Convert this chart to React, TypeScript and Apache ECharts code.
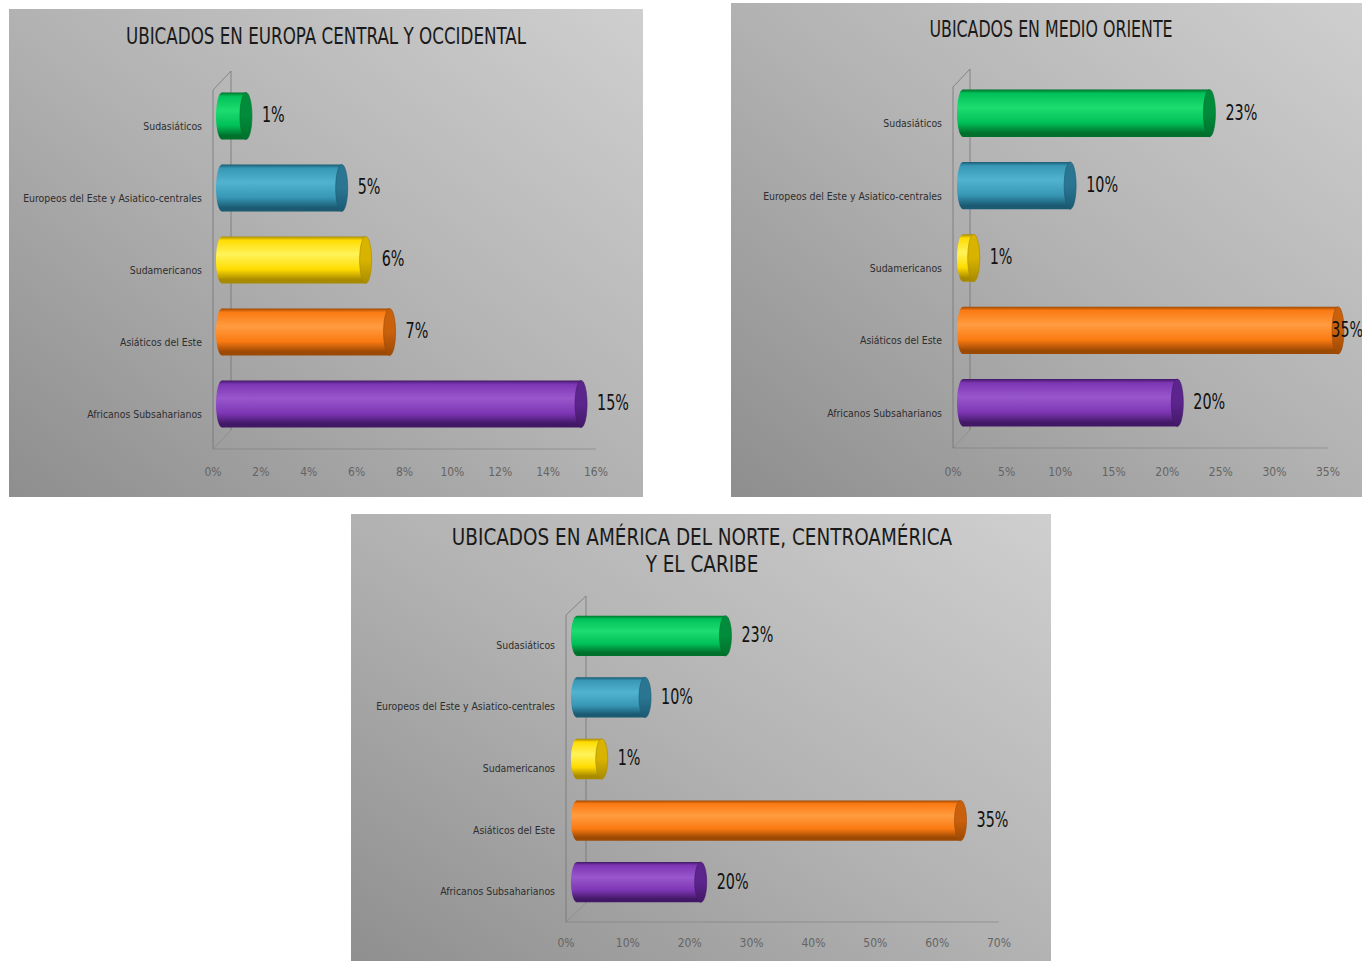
import React, { useEffect, useRef } from "react";
import * as echarts from "echarts";

// ---------- DATA ----------
const categories = [
  "Sudasiáticos",
  "Europeos del Este y Asiatico-centrales",
  "Sudamericanos",
  "Asiáticos del Este",
  "Africanos Subsaharianos",
];

const europaTitle = "UBICADOS EN EUROPA CENTRAL Y OCCIDENTAL";
const europaValues = [1, 5, 6, 7, 15];
const europaLabels = ["1%", "5%", "6%", "7%", "15%"];
const europaAxisMax = 16;
const europaAxisStep = 2;

const medioTitle = "UBICADOS EN MEDIO ORIENTE";
const medioValues = [23, 10, 1, 35, 20];
const medioLabels = ["23%", "10%", "1%", "35%", "20%"];
const medioAxisMax = 35;
const medioAxisStep = 5;

const americaTitle = "UBICADOS EN AMÉRICA DEL NORTE, CENTROAMÉRICA\nY EL CARIBE";
const americaValues = [24, 11, 4, 62, 20];
const americaLabels = ["23%", "10%", "1%", "35%", "20%"];
const americaAxisMax = 70;
const americaAxisStep = 10;

// ---------- STYLE ----------
const FONT = '"DejaVu Sans Condensed", "DejaVu Sans", sans-serif';

const barColors = [
  { light: "#1ddc70", base: "#00c158", dark: "#00702c", cap: "#008c3b" },
  { light: "#52b3cf", base: "#3797b5", dark: "#1b5a72", cap: "#2a7592" },
  { light: "#fff35a", base: "#ffdc00", dark: "#a88a00", cap: "#d8b300" },
  { light: "#ff9c40", base: "#fb7a12", dark: "#9c4904", cap: "#c9600c" },
  { light: "#9857cc", base: "#7d36b4", dark: "#421866", cap: "#5c258e" },
];

type Panel = {
  title: string;
  values: number[];
  labels: string[];
  max: number;
  step: number;
  rect: [number, number, number, number];
  grid: { left: number; top: number; width: number; height: number };
  titleX: number;
  titleY: number;
  titleScale: number;
  depth: number;
  wallDx: number;
  wallDy: number;
  floorY: number;
  labelMargin: number;
  catOffset: number;
};

const panels: Panel[] = [
  {
    title: europaTitle,
    values: europaValues,
    labels: europaLabels,
    max: europaAxisMax,
    step: europaAxisStep,
    rect: [9, 9, 634, 488],
    grid: { left: 213, top: 80, width: 383, height: 360 },
    titleX: 326,
    titleY: 36,
    titleScale: 0.81,
    depth: 9,
    wallDx: 18,
    wallDy: 19,
    floorY: 449,
    labelMargin: 26,
    catOffset: 10,
  },
  {
    title: medioTitle,
    values: medioValues,
    labels: medioLabels,
    max: medioAxisMax,
    step: medioAxisStep,
    rect: [731, 3, 640, 494],
    grid: { left: 953, top: 77, width: 375, height: 362 },
    titleX: 1051,
    titleY: 29,
    titleScale: 0.765,
    depth: 10,
    wallDx: 17,
    wallDy: 18,
    floorY: 448,
    labelMargin: 27,
    catOffset: 10,
  },
  {
    title: americaTitle,
    values: americaValues,
    labels: americaLabels,
    max: americaAxisMax,
    step: americaAxisStep,
    rect: [351, 514, 700, 460],
    grid: { left: 566, top: 605, width: 433, height: 308 },
    titleX: 702,
    titleY: 551,
    titleScale: 0.89,
    depth: 11,
    wallDx: 20,
    wallDy: 19,
    floorY: 922,
    labelMargin: 24,
    catOffset: 9,
  },
];

const CAP_RX = 6;
const VALUE_FONT = 21;
const VALUE_SCALE = 0.76;

export default function App() {
  const ref = useRef<HTMLDivElement>(null);

  useEffect(() => {
    if (!ref.current) return;
    const chart = echarts.init(ref.current, null, { renderer: "svg" });

    const graphics: any[] = [];
    panels.forEach((p) => {
      const [x, y, w, h] = p.rect;
      graphics.push({
        type: "rect",
        z: -10,
        shape: { x, y, width: w, height: h },
        style: {
          fill: new echarts.graphic.LinearGradient(0, 1, 1, 0, [
            { offset: 0, color: "#8e8e8e" },
            { offset: 0.5, color: "#b2b2b2" },
            { offset: 1, color: "#cfcfcf" },
          ]),
        },
        silent: true,
      });
      const g = p.grid;
      const fx = g.left;
      const topY = g.top + 10;
      const bx = fx + p.wallDx;
      graphics.push({
        type: "polyline",
        z: -5,
        shape: {
          points: [
            [fx, p.floorY],
            [fx, topY],
            [bx, topY - p.wallDy],
            [bx, p.floorY - p.wallDy],
          ],
        },
        style: { stroke: "rgba(110,110,110,0.7)", lineWidth: 1, fill: null },
        silent: true,
      });
      graphics.push({
        type: "line",
        z: -5,
        shape: { x1: fx, y1: p.floorY, x2: g.left + g.width, y2: p.floorY },
        style: { stroke: "rgba(120,120,120,0.55)", lineWidth: 1.2 },
        silent: true,
      });
      graphics.push({
        type: "line",
        z: -5,
        shape: { x1: fx, y1: p.floorY, x2: bx, y2: p.floorY - p.wallDy },
        style: { stroke: "rgba(120,120,120,0.4)", lineWidth: 1 },
        silent: true,
      });
      graphics.push({
        type: "text",
        z: 5,
        x: p.titleX,
        y: p.titleY,
        scaleX: p.titleScale,
        style: {
          text: p.title,
          fill: "#1a1a1a",
          fontFamily: FONT,
          fontSize: 23,
          lineHeight: 27,
          align: "center",
          verticalAlign: "middle",
        },
      });
    });

    const option: any = {
      animation: false,
      backgroundColor: "#ffffff",
      grid: panels.map((p) => ({ ...p.grid, containLabel: false })),
      xAxis: panels.map((p, i) => ({
        type: "value",
        gridIndex: i,
        min: 0,
        max: p.max,
        interval: p.step,
        axisLine: { show: false },
        axisTick: { show: false },
        splitLine: { show: false },
        axisLabel: {
          formatter: "{value}%",
          margin: p.labelMargin,
          fontFamily: FONT,
          fontSize: 12,
          color: "#646464",
        },
      })),
      yAxis: panels.map((p, i) => ({
        type: "category",
        gridIndex: i,
        inverse: true,
        data: categories,
        axisLine: { show: false },
        axisTick: { show: false },
        splitLine: { show: false },
        axisLabel: {
          margin: 11,
          fontFamily: FONT,
          fontSize: 10.4,
          color: "#2e2e2e",
          verticalAlign: "top",
          lineHeight: p.catOffset * 2,
        },
      })),
      graphic: { elements: graphics },
      series: panels.map((p, i) => ({
        type: "custom",
        xAxisIndex: i,
        yAxisIndex: i,
        encode: { x: 0, y: 1 },
        data: p.values.map((v, k) => [v, k]),
        renderItem: (params: any, api: any) => {
          const v = api.value(0);
          const idx = api.value(1);
          const p0 = api.coord([0, idx]);
          const p1 = api.coord([v, idx]);
          const band = api.size([0, 1])[1];
          const hh = band * 0.655;
          const cy = p0[1];
          const x0 = p0[0] + p.depth;
          const x1 = p1[0] + p.depth;
          const c = barColors[idx];
          const bodyGrad = () =>
            new echarts.graphic.LinearGradient(0, 0, 0, 1, [
              { offset: 0, color: c.dark },
              { offset: 0.08, color: c.base },
              { offset: 0.38, color: c.light },
              { offset: 0.7, color: c.base },
              { offset: 0.92, color: c.dark },
              { offset: 1, color: c.dark },
            ]);
          const capGrad = new echarts.graphic.LinearGradient(0, 0, 0, 1, [
            { offset: 0, color: c.cap },
            { offset: 0.5, color: c.cap },
            { offset: 1, color: c.dark },
          ]);
          const label = p.labels[idx];
          const labelW = label.length * VALUE_FONT * 0.6 * VALUE_SCALE;
          const panelRight = p.rect[0] + p.rect[2];
          const chartRight = 1361;
          const lx = Math.min(x1 + CAP_RX + 10, Math.min(panelRight, chartRight) - labelW - 1);
          return {
            type: "group",
            children: [
              {
                type: "ellipse",
                shape: { cx: x0, cy, rx: CAP_RX, ry: hh / 2 },
                style: { fill: bodyGrad() },
              },
              {
                type: "rect",
                shape: { x: x0, y: cy - hh / 2, width: Math.max(0, x1 - x0), height: hh },
                style: { fill: bodyGrad() },
              },
              {
                type: "ellipse",
                shape: { cx: x1, cy, rx: CAP_RX, ry: hh / 2 },
                style: { fill: capGrad, stroke: c.dark, lineWidth: 0.6 },
              },
              {
                type: "text",
                x: lx,
                y: cy - 1,
                scaleX: VALUE_SCALE,
                z2: 10,
                style: {
                  text: label,
                  fill: "#111111",
                  fontFamily: FONT,
                  fontSize: VALUE_FONT,
                  align: "left",
                  verticalAlign: "middle",
                },
              },
            ],
          };
        },
      })),
    };

    chart.setOption(option);
    return () => chart.dispose();
  }, []);

  return (
    <div
      ref={ref}
      style={{ position: "absolute", left: 0, top: 0, width: 1362, height: 961 }}
    />
  );
}
